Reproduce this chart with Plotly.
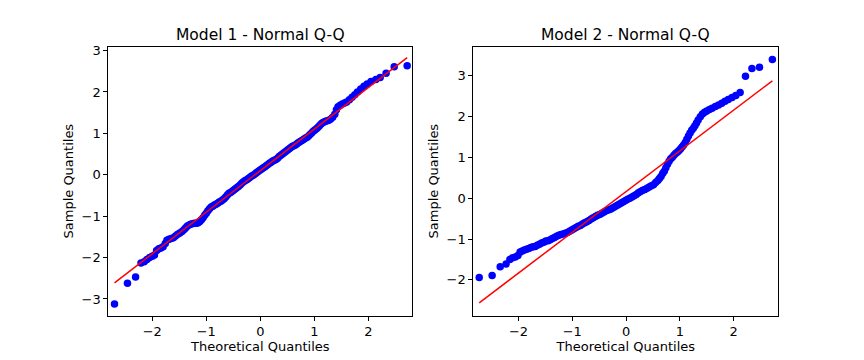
import plotly.graph_objects as go

# ---- data ----
m1_theoretical = [-2.70, -2.46, -2.31, -2.21, -2.15, -2.10, -2.05, -2.00, -1.96, -1.92, -1.88, -1.84, -1.80,
                  -1.76, -1.73, -1.69, -1.65, -1.61, -1.57, -1.53, -1.49, -1.45, -1.41, -1.38, -1.35, -1.31,
                  -1.28, -1.24, -1.21, -1.18, -1.15, -1.12, -1.09, -1.06, -1.03, -1.00, -0.97, -0.94, -0.91,
                  -0.88, -0.85, -0.82, -0.79, -0.76, -0.73, -0.70, -0.67, -0.64, -0.61, -0.58, -0.55, -0.52,
                  -0.49, -0.46, -0.43, -0.40, -0.37, -0.34, -0.31, -0.28, -0.25, -0.22, -0.19, -0.16, -0.13,
                  -0.10, -0.07, -0.04, -0.01, 0.02, 0.05, 0.08, 0.11, 0.14, 0.17, 0.20, 0.23, 0.26, 0.29,
                  0.32, 0.35, 0.38, 0.41, 0.44, 0.47, 0.50, 0.53, 0.56, 0.59, 0.62, 0.65, 0.68, 0.71, 0.74,
                  0.77, 0.80, 0.83, 0.86, 0.89, 0.92, 0.95, 0.98, 1.01, 1.04, 1.07, 1.10, 1.13, 1.16, 1.19,
                  1.22, 1.26, 1.30, 1.34, 1.38, 1.41, 1.44, 1.48, 1.52, 1.56, 1.60, 1.65, 1.70, 1.75, 1.80,
                  1.86, 1.92, 1.98, 2.05, 2.14, 2.22, 2.33, 2.48, 2.72]
m1_sample = [-3.12, -2.62, -2.47, -2.13, -2.10, -2.05, -2.00, -1.97, -1.94, -1.83, -1.79, -1.77, -1.74,
             -1.66, -1.58, -1.56, -1.54, -1.52, -1.48, -1.44, -1.41, -1.37, -1.32, -1.28, -1.24, -1.21,
             -1.19, -1.18, -1.17, -1.17, -1.16, -1.13, -1.09, -1.04, -0.98, -0.93, -0.87, -0.82, -0.78,
             -0.76, -0.73, -0.71, -0.69, -0.66, -0.64, -0.61, -0.58, -0.54, -0.49, -0.45, -0.43, -0.40,
             -0.37, -0.34, -0.31, -0.28, -0.24, -0.20, -0.17, -0.14, -0.12, -0.09, -0.06, -0.03, -0.01,
             0.02, 0.05, 0.08, 0.11, 0.13, 0.16, 0.19, 0.22, 0.25, 0.28, 0.30, 0.33, 0.35, 0.37,
             0.40, 0.44, 0.47, 0.50, 0.53, 0.56, 0.59, 0.62, 0.65, 0.68, 0.70, 0.72, 0.75, 0.78, 0.80,
             0.83, 0.85, 0.88, 0.90, 0.93, 0.97, 1.01, 1.05, 1.08, 1.11, 1.15, 1.19, 1.23, 1.26, 1.28,
             1.30, 1.31, 1.34, 1.39, 1.46, 1.57, 1.64, 1.68, 1.71, 1.73, 1.76, 1.81, 1.87, 1.93, 2.00,
             2.07, 2.14, 2.19, 2.25, 2.30, 2.35, 2.45, 2.61, 2.63]

m2_theoretical = [-2.73, -2.49, -2.34, -2.23, -2.16, -2.11, -2.06, -2.01, -1.97, -1.93, -1.89, -1.85, -1.81,
                  -1.77, -1.73, -1.69, -1.65, -1.61, -1.57, -1.53, -1.49, -1.45, -1.41, -1.37, -1.33, -1.29,
                  -1.25, -1.21, -1.17, -1.13, -1.09, -1.05, -1.01, -0.97, -0.93, -0.89, -0.85, -0.81, -0.77,
                  -0.73, -0.69, -0.65, -0.61, -0.57, -0.53, -0.49, -0.45, -0.41, -0.37, -0.33, -0.29, -0.25,
                  -0.21, -0.17, -0.13, -0.09, -0.05, -0.01, 0.03, 0.07, 0.11, 0.15, 0.19, 0.23, 0.27, 0.31,
                  0.35, 0.39, 0.43, 0.47, 0.51, 0.55, 0.59, 0.62, 0.65, 0.68, 0.71, 0.74, 0.77, 0.80, 0.83,
                  0.86, 0.89, 0.92, 0.95, 0.98, 1.01, 1.04, 1.07, 1.10, 1.13, 1.16, 1.19, 1.22, 1.25, 1.28,
                  1.31, 1.34, 1.38, 1.42, 1.46, 1.50, 1.55, 1.60, 1.66, 1.72, 1.78, 1.84, 1.90, 1.97, 2.04,
                  2.12, 2.22, 2.34, 2.48, 2.72]
m2_sample = [-1.94, -1.89, -1.68, -1.61, -1.50, -1.46, -1.44, -1.40, -1.32, -1.29, -1.27, -1.25, -1.23,
             -1.21, -1.19, -1.18, -1.15, -1.13, -1.10, -1.08, -1.05, -1.04, -1.02, -0.99, -0.96, -0.93,
             -0.91, -0.89, -0.88, -0.86, -0.84, -0.81, -0.78, -0.75, -0.72, -0.69, -0.67, -0.63, -0.60,
             -0.58, -0.55, -0.51, -0.48, -0.45, -0.42, -0.40, -0.37, -0.34, -0.31, -0.29, -0.27, -0.24,
             -0.21, -0.18, -0.15, -0.12, -0.09, -0.06, -0.03, 0.00, 0.03, 0.06, 0.09, 0.13, 0.16, 0.19,
             0.21, 0.24, 0.27, 0.30, 0.33, 0.38, 0.43, 0.48, 0.53, 0.60, 0.66, 0.74, 0.83, 0.90, 0.96,
             1.00, 1.05, 1.09, 1.12, 1.16, 1.20, 1.25, 1.30, 1.36, 1.44, 1.52, 1.59, 1.66, 1.71, 1.77,
             1.84, 1.91, 1.99, 2.06, 2.10, 2.13, 2.17, 2.20, 2.24, 2.28, 2.32, 2.37, 2.41, 2.46, 2.51,
             2.58, 2.98, 3.17, 3.20, 3.39]

# fitted reference lines (slope, intercept)
m1_fit = (1.004, 0.10)
m2_fit = (0.996, 0.16)

titles = ["Model 1 - Normal Q-Q", "Model 2 - Normal Q-Q"]
x_label = "Theoretical Quantiles"
y_label = "Sample Quantiles"

W, H = 864, 360
FONT = "DejaVu Sans"

fig = go.Figure()

panels = [
    (m1_theoretical, m1_sample, m1_fit, "x", "y"),
    (m2_theoretical, m2_sample, m2_fit, "x2", "y2"),
]
for xs, ys, (b, a), xa, ya in panels:
    fig.add_trace(go.Scatter(x=xs, y=ys, mode="markers", xaxis=xa, yaxis=ya,
                             marker=dict(color="#0000ff", size=7.5, line=dict(width=0)),
                             showlegend=False, hoverinfo="skip"))
    lx = [min(xs), max(xs)]
    fig.add_trace(go.Scatter(x=lx, y=[a + b * v for v in lx], mode="lines", xaxis=xa, yaxis=ya,
                             line=dict(color="#ff0000", width=1.5),
                             showlegend=False, hoverinfo="skip"))

axis_common = dict(showline=True, mirror=True, linecolor="black", linewidth=1,
                   ticks="outside", ticklen=4, tickwidth=1, tickcolor="black",
                   showgrid=False, zeroline=False, dtick=1,
                   tickfont=dict(family=FONT, size=13, color="black"),
                   title_font=dict(family=FONT, size=13, color="black"))

ydom = [1 - 315 / H, 1 - 43.3 / H]
fig.update_layout(
    width=W, height=H,
    margin=dict(l=0, r=0, t=0, b=0),
    paper_bgcolor="white", plot_bgcolor="white",
    font=dict(family=FONT, color="black"),
    xaxis=dict(domain=[108.3 / W, 412.3 / W], range=[-2.815, 2.815],
               title=dict(text=x_label, standoff=3), anchor="y", **axis_common),
    yaxis=dict(domain=ydom, range=[-3.40, 3.09],
               title=dict(text=y_label, standoff=4), anchor="x", **axis_common),
    xaxis2=dict(domain=[473.3 / W, 778.3 / W], range=[-2.84, 2.83],
                title=dict(text=x_label, standoff=3), anchor="y2", **axis_common),
    yaxis2=dict(domain=ydom, range=[-2.87, 3.70],
                title=dict(text=y_label, standoff=4), anchor="x2", **axis_common),
)

for i, t in enumerate(titles):
    xref = "x domain" if i == 0 else "x2 domain"
    fig.add_annotation(text=t, xref=xref, x=0.5, yref="paper", y=1 - 31 / H,
                       xanchor="center", yanchor="middle", showarrow=False,
                       font=dict(family=FONT, size=15.5, color="black"))

fig.write_html("out.html", config={"displayModeBar": False},
               post_script="document.body.style.margin='0px';document.body.style.overflow='hidden';")
